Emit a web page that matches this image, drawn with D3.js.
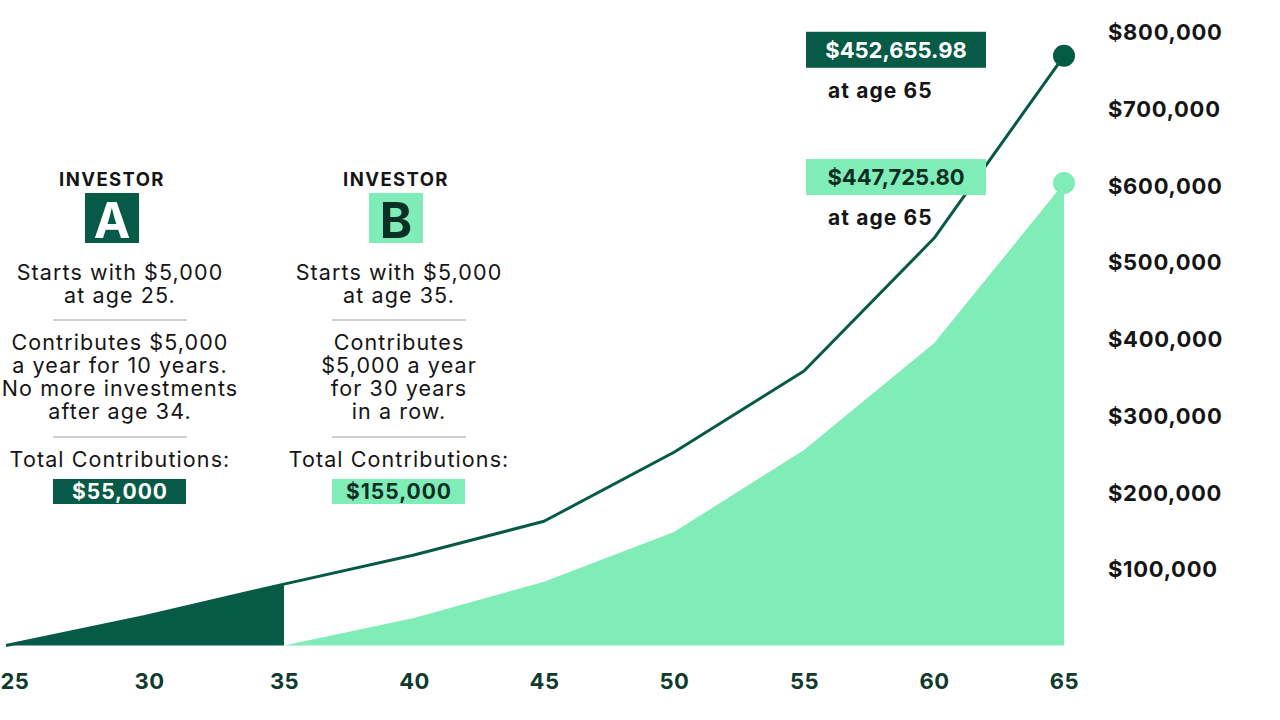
<!DOCTYPE html>
<html>
<head>
<meta charset="utf-8">
<script src="https://cdn.jsdelivr.net/npm/d3@7/dist/d3.min.js"></script>
<style>
    body { margin: 0; background: #fff; }
    svg { display: block; }
    text { font-family: Inter, "Noto Sans", sans-serif; }
</style>
</head>
<body>
<div id="chart"></div>
<script>
// chart data
var ages = [25, 30, 35, 40, 45, 50, 55, 60, 65]
var investor_a = [0, 38000, 80000, 118000, 162000, 252000, 358000, 531000, 769000]
var investor_b = [null, null, 0, 36000, 83000, 148000, 255000, 394000, 603000]
var a_stop_age = 35
var y_ticks = [100000, 200000, 300000, 400000, 500000, 600000, 700000, 800000]
var final_labels = ['$452,655.98', '$447,725.80']
var total_labels = ['$55,000', '$155,000']
var investor_letters = ['A', 'B']
var start_lines = [['Starts with $5,000', 'at age 25.'], ['Starts with $5,000', 'at age 35.']]
var contrib_lines = [
    ['Contributes $5,000', 'a year for 10 years.', 'No more investments', 'after age 34.'],
    ['Contributes', '$5,000 a year', 'for 30 years', 'in a row.']
]

var width = 1280, height = 720
var dark = '#065a46', light = '#80ecb7', ink = '#151515'

var svg = d3.select('#chart')
    .append('svg')
    .attr('width', width)
    .attr('height', height)

var x = d3.scaleLinear().domain([25, 35, 65]).range([6, 284, 1064])
var y = d3.scaleLinear().domain([0, 800000]).range([645.5, 32])

var pts_a = ages.map((d, i) => ({ age: d, v: investor_a[i] }))
var pts_b = ages.map((d, i) => ({ age: d, v: investor_b[i] }))

// light area for investor B
svg.append('path')
    .datum(pts_b.filter(d => d.v != null))
    .attr('fill', light)
    .attr('d', d3.area().x(d => x(d.age)).y0(y(0)).y1(d => y(d.v)))

// dark area for investor A while contributing
svg.append('path')
    .datum(pts_a.filter(d => d.age <= a_stop_age))
    .attr('fill', dark)
    .attr('d', d3.area().x(d => x(d.age)).y0(y(0)).y1(d => y(d.v)))

// investor A line
svg.append('path')
    .datum(pts_a)
    .attr('fill', 'none')
    .attr('stroke', dark)
    .attr('stroke-width', 3)
    .attr('stroke-linejoin', 'round')
    .attr('d', d3.line().x(d => x(d.age)).y(d => y(d.v)))

// end dots
var last = ages.length - 1
svg.append('circle').attr('cx', x(ages[last])).attr('cy', y(investor_b[last])).attr('r', 11).attr('fill', light)
svg.append('circle').attr('cx', x(ages[last])).attr('cy', y(investor_a[last])).attr('r', 11).attr('fill', dark)

// axes
var x_axis = svg.append('g')
    .attr('transform', `translate(0,${y(0) + 27})`)
    .call(d3.axisBottom(x).tickValues(ages).tickSize(0).tickPadding(0).tickFormat(d3.format('d')))
x_axis.select('.domain').remove()
x_axis.selectAll('text')
    .attr('font-size', 22).attr('font-weight', 700).attr('fill', '#0f3a2d')
    .attr('font-family', 'Inter, sans-serif')
    .attr('letter-spacing', 0.5)
    .attr('dy', 16)
x_axis.selectAll('.tick').filter(d => d == 25).select('text')
    .attr('text-anchor', 'start').attr('x', -6)
x_axis.selectAll('.tick').filter(d => d == 30).select('text')
    .attr('x', 4)

var y_axis = svg.append('g')
    .attr('transform', 'translate(1108,0)')
    .call(d3.axisRight(y).tickValues(y_ticks).tickSize(0).tickPadding(0).tickFormat(d => '$' + d3.format(',')(d)))
y_axis.select('.domain').remove()
y_axis.selectAll('text')
    .attr('font-size', 22).attr('font-weight', 700).attr('fill', ink)
    .attr('font-family', 'Inter, sans-serif')
    .attr('letter-spacing', 0.7)
    .attr('dy', '0.36em')

// end value call-outs
var box_x = x(65) - 258, box_w = 180, box_h = 36
final_labels.forEach((lab, i) => {
    var val = i == 0 ? investor_a[last] : investor_b[last]
    var by = y(val) - 24
    var g = svg.append('g')
    g.append('rect').attr('x', box_x).attr('y', by).attr('width', box_w).attr('height', box_h)
        .attr('fill', i == 0 ? dark : light)
    g.append('text').attr('x', box_x + box_w / 2).attr('y', by + 26)
        .attr('text-anchor', 'middle').attr('font-size', 22).attr('font-weight', 700)
        .attr('fill', i == 0 ? '#fff' : '#0c2e23').text(lab)
    g.append('text').attr('x', box_x + 22).attr('y', by + 66)
        .attr('font-size', 21).attr('font-weight', 700).attr('letter-spacing', 1.1)
        .attr('fill', ink).text('at age 65')
})

// investor info blocks
var head_x = [112, 396], body_x = [120, 399]
investor_letters.forEach((letter, i) => {
    var h = svg.append('g').attr('transform', `translate(${head_x[i]},0)`)
    h.append('text').attr('y', 186).attr('text-anchor', 'middle')
        .attr('font-size', 18.5).attr('font-weight', 700).attr('letter-spacing', 1.4)
        .attr('fill', ink).text('INVESTOR')
    h.append('rect').attr('x', -27).attr('y', 193).attr('width', 54).attr('height', 50)
        .attr('fill', i == 0 ? dark : light)
    h.append('text').attr('y', 238).attr('text-anchor', 'middle')
        .attr('font-size', 49).attr('font-weight', 700)
        .attr('fill', i == 0 ? '#fff' : '#0a2f24').text(letter)

    var g = svg.append('g').attr('transform', `translate(${body_x[i]},0)`)
    // one text per paragraph, lines as tspans
    var para = (lines, yy) => {
        var t = g.append('text').attr('y', yy).attr('text-anchor', 'middle')
            .attr('font-size', 21.5).attr('letter-spacing', 1.1).attr('fill', ink)
        t.selectAll('tspan').data(lines).enter().append('tspan')
            .attr('x', 0).attr('dy', (d, j) => j == 0 ? 0 : 23).text(d => d)
    }

    para(start_lines[i], 280)
    g.append('line').attr('x1', -67).attr('x2', 67).attr('y1', 320).attr('y2', 320)
        .attr('stroke', '#cfcfcf').attr('stroke-width', 2)
    para(contrib_lines[i], 350)
    g.append('line').attr('x1', -67).attr('x2', 67).attr('y1', 437).attr('y2', 437)
        .attr('stroke', '#cfcfcf').attr('stroke-width', 2)
    para(['Total Contributions:'], 467)
    g.append('rect').attr('x', -67).attr('y', 479).attr('width', 133).attr('height', 25)
        .attr('fill', i == 0 ? dark : light)
    g.append('text').attr('y', 499).attr('text-anchor', 'middle')
        .attr('font-size', 21).attr('font-weight', 700).attr('letter-spacing', 1)
        .attr('fill', i == 0 ? '#fff' : '#0c2e23').text(total_labels[i])
})
</script>
</body>
</html>
